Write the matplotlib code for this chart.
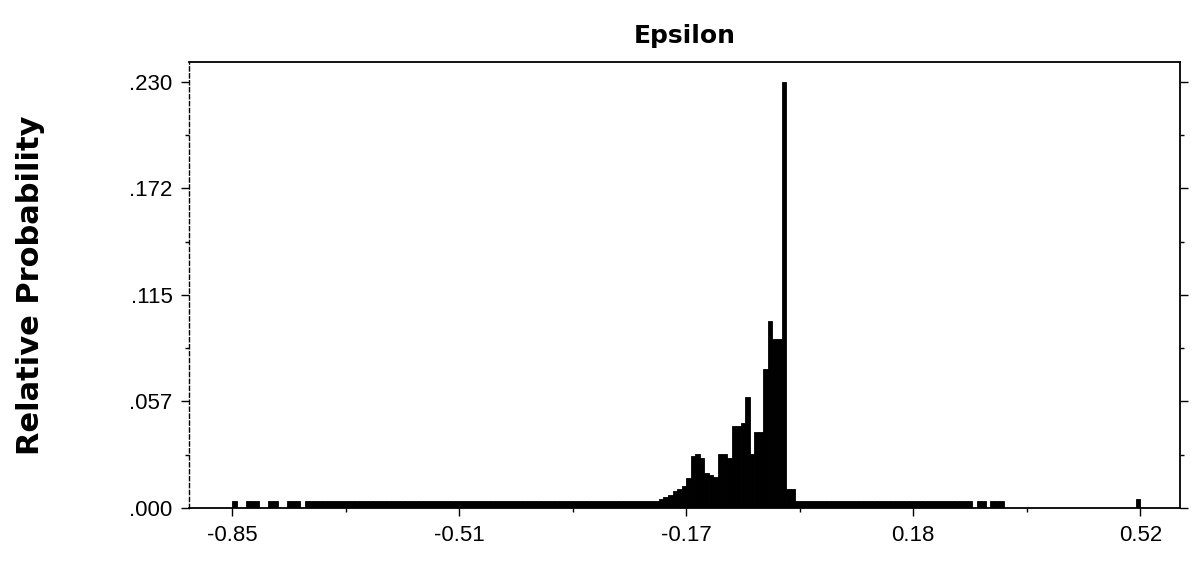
import numpy as np
import matplotlib
matplotlib.use("Agg")
import matplotlib.pyplot as plt
from matplotlib.ticker import FixedLocator

# ---- data ----
x_min, x_max = -0.85, 0.52
n_bins = 200
probabilities = [
    # bins 0-19
    0.004, 0.0, 0.0, 0.004, 0.004, 0.004, 0.0, 0.0, 0.004, 0.004,
    0.0, 0.0, 0.004, 0.004, 0.004, 0.0, 0.004, 0.004, 0.004, 0.004,
    # bins 20-89
    0.004, 0.004, 0.004, 0.004, 0.004, 0.004, 0.004, 0.004, 0.004, 0.004,
    0.004, 0.004, 0.004, 0.004, 0.004, 0.004, 0.004, 0.004, 0.004, 0.004,
    0.004, 0.004, 0.004, 0.004, 0.004, 0.004, 0.004, 0.004, 0.004, 0.004,
    0.004, 0.004, 0.004, 0.004, 0.004, 0.004, 0.004, 0.004, 0.004, 0.004,
    0.004, 0.004, 0.004, 0.004, 0.004, 0.004, 0.004, 0.004, 0.004, 0.004,
    0.004, 0.004, 0.004, 0.004, 0.004, 0.004, 0.004, 0.004, 0.004, 0.004,
    0.004, 0.004, 0.004, 0.004, 0.004, 0.004, 0.004, 0.004, 0.004, 0.004,
    # bins 90-129
    0.004, 0.004, 0.004, 0.004, 0.005, 0.006, 0.007, 0.009, 0.010, 0.012,
    0.016, 0.028, 0.029, 0.027, 0.019, 0.018, 0.017, 0.029, 0.029, 0.027,
    0.044, 0.044, 0.046, 0.060, 0.029, 0.041, 0.041, 0.075, 0.101, 0.091,
    0.091, 0.230, 0.010, 0.010, 0.004, 0.004, 0.004, 0.004, 0.004, 0.004,
    # bins 130-199
    0.004, 0.004, 0.004, 0.004, 0.004, 0.004, 0.004, 0.004, 0.004, 0.004,
    0.004, 0.004, 0.004, 0.004, 0.004, 0.004, 0.004, 0.004, 0.004, 0.004,
    0.004, 0.004, 0.004, 0.004, 0.004, 0.004, 0.004, 0.004, 0.004, 0.004,
    0.004, 0.004, 0.004, 0.0, 0.004, 0.004, 0.0, 0.004, 0.004, 0.004,
    0.0, 0.0, 0.0, 0.0, 0.0, 0.0, 0.0, 0.0, 0.0, 0.0,
    0.0, 0.0, 0.0, 0.0, 0.0, 0.0, 0.0, 0.0, 0.0, 0.0,
    0.0, 0.0, 0.0, 0.0, 0.0, 0.0, 0.0, 0.0, 0.0, 0.005,
]
x_tick_values = [-0.85, -0.5075, -0.165, 0.1775, 0.52]
x_tick_labels = ["-0.85", "-0.51", "-0.17", "0.18", "0.52"]
y_tick_values = [0.0, 0.0575, 0.115, 0.1725, 0.230]
y_tick_labels = [".000", ".057", ".115", ".172", ".230"]
title = "Epsilon"
y_label = "Relative Probability"

# ---- figure ----
fig = plt.figure(figsize=(11.98, 5.65), dpi=100)
ax = fig.add_axes([0.1578, 0.1009, 0.8272, 0.7894])

edges = np.linspace(x_min, x_max, n_bins + 1)
ax.bar(edges[:-1], probabilities, width=np.diff(edges), align="edge",
       color="black", edgecolor="black", linewidth=0.6)

ax.set_xlim(-0.915, 0.58)
ax.set_ylim(0, 0.2408)

tick_font = dict(family="Liberation Sans", size=16)
ax.set_xticks(x_tick_values)
ax.set_xticklabels(x_tick_labels, **tick_font)
ax.set_yticks(y_tick_values)
ax.set_yticklabels(y_tick_labels, **tick_font)

mid_x = [(a + b) / 2 for a, b in zip(x_tick_values[:-1], x_tick_values[1:])]
mid_y = [(a + b) / 2 for a, b in zip(y_tick_values[:-1], y_tick_values[1:])]
ax.xaxis.set_minor_locator(FixedLocator(mid_x))
ax.yaxis.set_minor_locator(FixedLocator(mid_y))
ax.tick_params(axis="both", which="major", direction="out", length=6, width=1,
               pad=6, color="black")
ax.tick_params(axis="both", which="minor", direction="out", length=3, width=1)
ax.tick_params(axis="y", right=True, which="both")

for side in ["top", "right", "bottom"]:
    ax.spines[side].set_linewidth(1.3)
ax.spines["left"].set_linewidth(1.0)
ax.spines["left"].set_linestyle((0, (3, 2)))

ax.set_title(title, family="DejaVu Sans", fontweight="bold", fontsize=18, pad=14)
ax.set_ylabel(y_label, family="DejaVu Sans", fontweight="bold", fontsize=22)
ax.yaxis.set_label_coords(-0.145, 0.5)

fig.savefig("out.png", dpi=100, facecolor="white")
